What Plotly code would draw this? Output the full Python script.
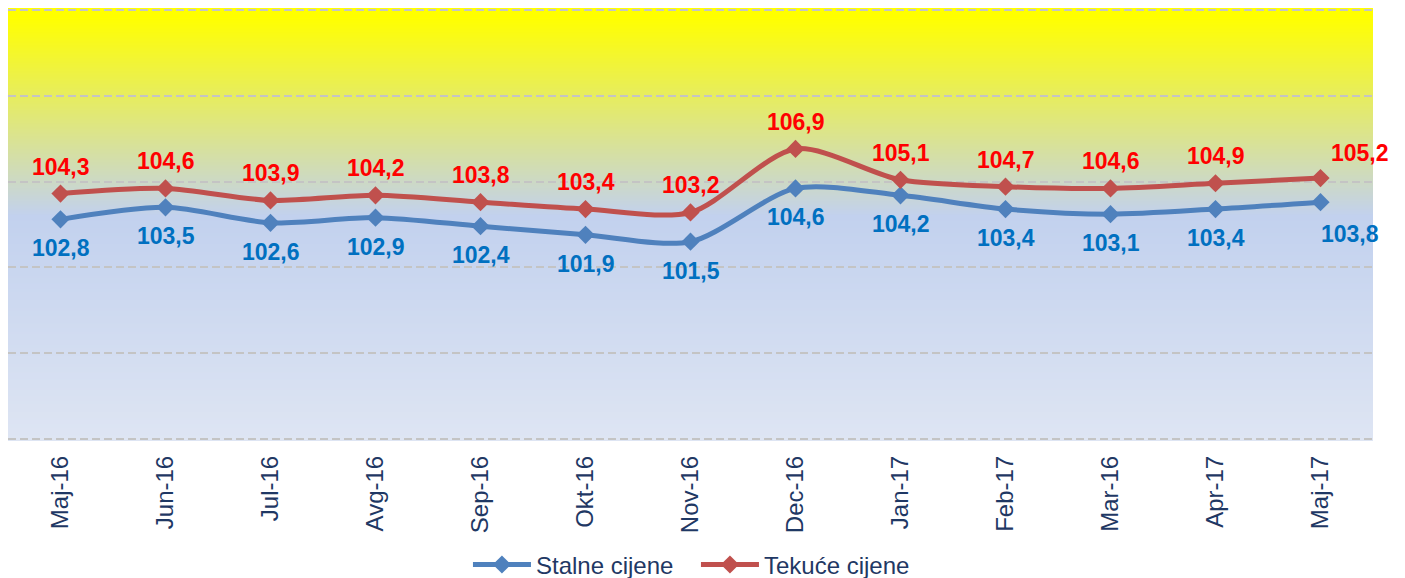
import zlib, struct, base64
import plotly.graph_objects as go

months = ["Maj-16", "Jun-16", "Jul-16", "Avg-16", "Sep-16", "Okt-16", "Nov-16",
          "Dec-16", "Jan-17", "Feb-17", "Mar-16", "Apr-17", "Maj-17"]
stalne = [102.8, 103.5, 102.6, 102.9, 102.4, 101.9, 101.5, 104.6, 104.2, 103.4, 103.1, 103.4, 103.8]
tekuce = [104.3, 104.6, 103.9, 104.2, 103.8, 103.4, 103.2, 106.9, 105.1, 104.7, 104.6, 104.9, 105.2]

BLUE = "#4F81BD"
RED = "#C0504D"
NAVY = "#1F3864"
FONT = "Liberation Sans, Arial, sans-serif"


def gradient_png(stops, h=433, w=4):
    rows = []
    for i in range(h):
        t = i / (h - 1)
        for (p0, c0), (p1, c1) in zip(stops[:-1], stops[1:]):
            if p0 <= t <= p1:
                f = (t - p0) / (p1 - p0) if p1 > p0 else 0
                c = tuple(int(round(a + (b - a) * f)) for a, b in zip(c0, c1))
                break
        rows.append(b"\x00" + bytes(c) * w)
    raw = b"".join(rows)

    def chunk(tag, data):
        out = struct.pack(">I", len(data)) + tag + data
        return out + struct.pack(">I", zlib.crc32(tag + data) & 0xFFFFFFFF)

    png = (b"\x89PNG\r\n\x1a\n"
           + chunk(b"IHDR", struct.pack(">IIBBBBB", w, h, 8, 2, 0, 0, 0))
           + chunk(b"IDAT", zlib.compress(raw, 9))
           + chunk(b"IEND", b""))
    return "data:image/png;base64," + base64.b64encode(png).decode()


bg = gradient_png([(0.0, (255, 255, 0)), (0.02, (255, 255, 0)),
                   (0.48, (194, 209, 238)), (1.0, (222, 229, 243))])

x = list(range(len(months)))

fig = go.Figure()
fig.add_trace(go.Scatter(
    x=x, y=stalne, name="Stalne cijene", mode="lines+markers",
    line=dict(color=BLUE, width=5, shape="spline", smoothing=0.8),
    marker=dict(symbol="diamond", size=14, color=BLUE),
    hoverinfo="skip"))
fig.add_trace(go.Scatter(
    x=x, y=tekuce, name="Tekuće cijene", mode="lines+markers",
    line=dict(color=RED, width=5, shape="spline", smoothing=0.8),
    marker=dict(symbol="diamond", size=14, color=RED),
    hoverinfo="skip"))

annotations = []
n = len(months)
for i, (s, t) in enumerate(zip(stalne, tekuce)):
    last = i == n - 1
    annotations.append(dict(
        x=i, y=t, text=f"{t:.1f}".replace(".", ","), showarrow=False,
        yshift=25 if last else 27, xshift=39 if last else 0,
        font=dict(family=FONT, size=23, color="#FF0000", weight="bold")))
    annotations.append(dict(
        x=i, y=s, text=f"{s:.1f}".replace(".", ","), showarrow=False,
        yshift=-32 if last else -29, xshift=29 if last else 0,
        font=dict(family=FONT, size=23, color="#0070C0", weight="bold")))

# the page body adds an 8px offset, so the figure is 8px smaller than the window
fig.update_layout(
    width=1397, height=570,
    margin=dict(l=0, r=32, t=0, b=137, autoexpand=False),
    paper_bgcolor="white", plot_bgcolor="rgba(0,0,0,0)",
    font=dict(family=FONT, color=NAVY),
    images=[dict(source=bg, xref="x domain", yref="y domain", x=0, y=1,
                 sizex=1, sizey=1, xanchor="left", yanchor="top",
                 sizing="stretch", layer="below")],
    annotations=annotations,
    showlegend=True,
    legend=dict(orientation="h", x=0.504, xanchor="center", yref="container",
                y=0.023, yanchor="middle", font=dict(size=24, color=NAVY),
                itemwidth=58, entrywidth=155, entrywidthmode="pixels",
                bgcolor="rgba(0,0,0,0)"),
    xaxis=dict(range=[-0.5, n - 0.5], tickvals=x, ticktext=months,
               tickangle=-90, showgrid=False, zeroline=False, showline=False,
               ticks="", ticklabelstandoff=9,
               tickfont=dict(size=24, color=NAVY, family=FONT)),
    yaxis=dict(range=[89.9, 115.1], tick0=90, dtick=5, showgrid=True,
               gridcolor="#C4C4C4", griddash="8px,4px", gridwidth=1.5,
               showticklabels=False, zeroline=False, showline=False, ticks=""),
)

fig.write_html("out.html")
